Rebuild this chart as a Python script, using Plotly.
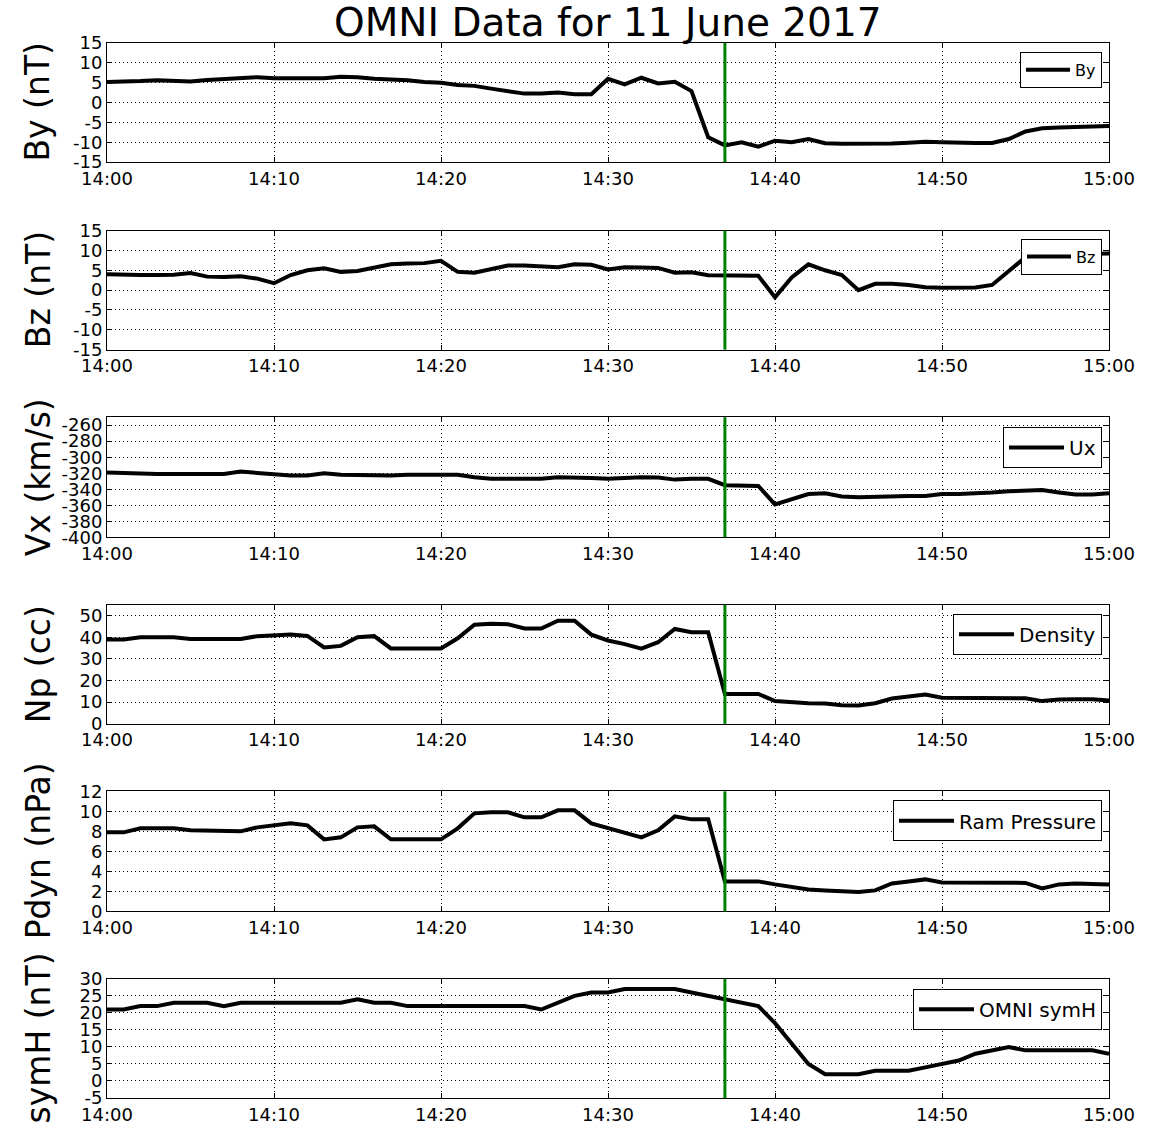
import plotly.graph_objects as go
import pandas as pd

times = pd.date_range("2017-06-11 14:00", "2017-06-11 15:00", freq="1min")

by = [5.2, 5.2, 5.4, 5.6, 5.5, 5.3, 5.7, 6.0, 6.2, 6.4,
      6.1, 6.1, 6.2, 6.1, 6.5, 6.4, 6.0, 5.9, 5.6, 5.2,
      5.0, 4.4, 4.2, 3.5, 2.8, 2.25, 2.3, 2.5, 2.1, 2.1,
      6.0, 4.6, 6.25, 4.8, 5.25, 2.9, -8.75, -10.8, -10.0, -11.1,
      -9.6, -10.0, -9.2, -10.25, -10.4, -10.4, -10.4, -10.3, -10.1, -9.9,
      -10.0, -10.2, -10.2, -10.2, -9.2, -7.3, -6.5, -6.3, -6.2, -6.1, -5.9]

bz = [4.0, 3.8, 3.8, 3.8, 3.9, 4.3, 3.4, 3.3, 3.5, 2.9,
      1.75, 3.8, 5.0, 5.5, 4.6, 4.8, 5.75, 6.5, 6.7, 6.8,
      7.4, 4.6, 4.4, 5.25, 6.2, 6.2, 6.1, 5.75, 6.5, 6.4,
      5.2, 5.75, 5.7, 5.6, 4.4, 4.5, 3.75, 3.75, 3.6, 3.6,
      -1.8, 3.2, 6.5, 5.0, 3.8, 0.0, 1.6, 1.6, 1.3, 0.75,
      0.6, 0.6, 0.67, 1.3, 4.7, 8.3, 9.0, 9.0, 9.0, 9.1, 9.2]

ux = [-319, -320, -321, -321, -321, -321, -321, -321, -318, -320,
      -322, -323, -323, -320, -322, -322.5, -322.5, -323, -322, -322,
      -321, -322, -325, -327, -327, -327, -327, -325, -325, -326,
      -327, -326, -325, -325.5, -328, -327, -327, -335, -335.5, -336,
      -359, -352.5, -346, -345, -349, -350, -349.5, -348, -348.5, -348.5,
      -346, -346, -345.5, -344, -342.5, -341.7, -341, -344, -346.7, -346.7, -345]

density = [39.0, 39.0, 40.0, 40.0, 40.0, 39.2, 39.2, 39.2, 39.2, 40.5,
           41.0, 41.2, 40.6, 35.3, 36.0, 40.0, 40.5, 34.8, 34.8, 34.8,
           34.8, 39.5, 45.8, 46.2, 46.0, 44.0, 44.0, 47.6, 47.6, 41.2,
           38.5, 36.8, 34.7, 37.7, 43.8, 42.3, 42.3, 13.8, 13.8, 13.8,
           10.5, 9.8, 9.5, 9.4, 8.6, 8.5, 9.5, 11.7, 12.6, 13.5,
           12.1, 12.1, 12.1, 11.8, 12.0, 11.8, 10.5, 11.2, 11.4, 11.4, 10.8]

pdyn = [7.9, 7.9, 8.3, 8.3, 8.3, 8.1, 8.1, 8.1, 8.0, 8.4,
        8.6, 8.8, 8.6, 7.2, 7.4, 8.4, 8.5, 7.2, 7.2, 7.2,
        7.2, 8.3, 9.8, 9.9, 9.9, 9.4, 9.4, 10.1, 10.1, 8.8,
        8.3, 7.8, 7.4, 8.1, 9.5, 9.2, 9.2, 3.0, 3.0, 3.0,
        2.7, 2.4, 2.2, 2.1, 2.0, 1.95, 2.1, 2.8, 3.0, 3.2,
        2.9, 2.9, 2.9, 2.8, 2.9, 2.85, 2.3, 2.7, 2.8, 2.8, 2.7]

symh = [21, 21, 22, 22, 23, 23, 23, 22, 23, 23,
        23, 23, 23, 23, 23, 24, 23, 23, 22, 22,
        22, 22, 22, 22, 22, 22, 21, 23, 25, 26,
        26, 27, 27, 27, 27, 26, 25, 24, 23, 22,
        17, 11, 5, 2, 2, 2, 3, 3, 3, 4,
        5, 6, 8, 9, 10, 9, 9, 9, 9, 9, 8]

event_time = "2017-06-11 14:37"

series = [by, bz, ux, density, pdyn, symh]
names = ["By", "Bz", "Ux", "Density", "Ram Pressure", "OMNI symH"]
ytitles = ["By (nT)", "Bz (nT)", "Vx (km/s)", "Np (cc)", "Pdyn (nPa)", "symH (nT)"]
yranges = [[-15, 15], [-15, 15], [-400, -250], [0, 55], [0, 12], [-5, 30]]
yticks = [list(range(-15, 16, 5)), list(range(-15, 16, 5)), list(range(-400, -259, 20)),
          list(range(0, 51, 10)), list(range(0, 13, 2)), list(range(-5, 31, 5))]

# pixel layout
W, H = 1151, 1137
L, R, T, B = 107, 1109, 43, 1106
panels = [(43, 163), (232, 352), (420, 541), (609, 729), (797, 918), (986, 1106)]
legend_boxes = [(1102, 52, 16, 44), (1102, 240, 16, 44), (1102, 430, 20, 55),
                (1102, 618, 20, 55), (1102, 806, 20, 55), (1102, 996, 20, 55)]

def py(p):
    return (B - p) / (B - T)

def px(p):
    return (p - L) / (R - L)

fig = go.Figure()
font_family = "DejaVu Sans"
annotations = []
shapes = []

for i, (vals, nm) in enumerate(zip(series, names)):
    n = "" if i == 0 else str(i + 1)
    leg = "legend" if i == 0 else f"legend{i + 1}"
    fig.add_trace(go.Scatter(x=times, y=vals, mode="lines", name=nm,
                             line=dict(color="black", width=4),
                             xaxis="x" + n, yaxis="y" + n, legend=leg))
    top, bot = panels[i]
    axis_common = dict(showline=True, linecolor="black", linewidth=1, mirror="ticks",
                       ticks="inside", ticklen=5, tickcolor="black",
                       showgrid=True, gridcolor="black", griddash="1px,3px", gridwidth=1,
                       zeroline=False, tickfont=dict(family=font_family, size=18, color="black"))
    fig.layout["xaxis" + n] = dict(domain=[0, 1], anchor="y" + n, type="date",
                                   range=["2017-06-11 14:00", "2017-06-11 15:00"],
                                   dtick=600000, tickformat="%H:%M", **axis_common)
    fig.layout["yaxis" + n] = dict(domain=[py(bot), py(top)], anchor="x" + n,
                                   range=yranges[i], tickmode="array", tickvals=yticks[i],
                                   ticktext=[str(v) for v in yticks[i]],
                                   **axis_common)
    shapes.append(dict(type="line", xref="x" + n, yref="y" + n + " domain",
                       x0=event_time, x1=event_time, y0=0, y1=1,
                       line=dict(color="green", width=3)))
    annotations.append(dict(text=ytitles[i], xref="paper", yref="paper",
                            x=px(38), y=py((top + bot) / 2), xanchor="center", yanchor="middle",
                            textangle=-90, showarrow=False,
                            font=dict(family=font_family, size=33, color="black")))
    lx, ly, fs, iw = legend_boxes[i]
    fig.layout[leg] = dict(x=px(lx), y=py(ly), xanchor="right", yanchor="top",
                           xref="paper", yref="paper", itemwidth=iw,
                           bgcolor="white", bordercolor="black", borderwidth=1,
                           font=dict(family=font_family, size=fs, color="black"))

annotations.append(dict(text="OMNI Data for 11 June 2017", xref="paper", yref="paper",
                        x=0.5, y=py(22), xanchor="center", yanchor="middle", showarrow=False,
                        font=dict(family=font_family, size=39, color="black")))

fig.update_layout(width=W, height=H, margin=dict(l=L, r=W - R, t=T, b=H - B),
                  plot_bgcolor="white", paper_bgcolor="white",
                  annotations=annotations, shapes=shapes, showlegend=True,
                  font=dict(family=font_family, color="black"))

fig.write_html("out.html")
